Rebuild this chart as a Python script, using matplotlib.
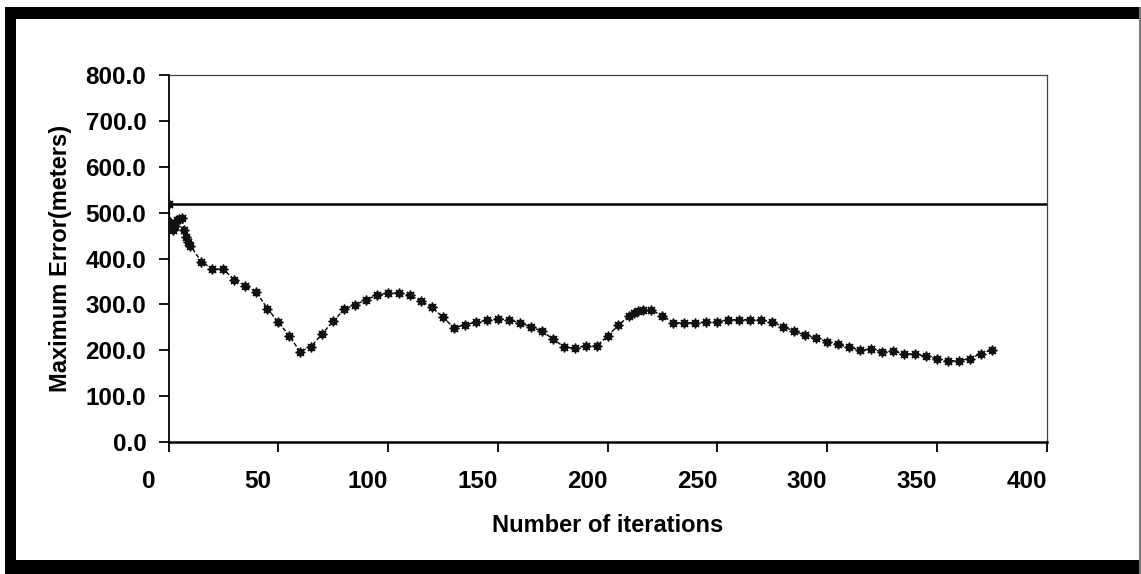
#%% Imports
import numpy as np
import matplotlib
matplotlib.use("Agg")
import matplotlib.pyplot as plt
import matplotlib.transforms as mtransforms
from matplotlib.patches import Rectangle

#%% Data
iterations = [0, 1, 2, 3, 4, 5, 6, 7, 8, 9, 10,
              15, 20, 25, 30, 35, 40, 45, 50, 55, 60,
              65, 70, 75, 80, 85, 90, 95, 100, 105, 110,
              115, 120, 125, 130, 135, 140, 145, 150, 155, 160,
              165, 170, 175, 180, 185, 190, 195, 200, 205, 210,
              212, 214, 216, 220, 225, 230, 235, 240, 245, 250,
              255, 260, 265, 270, 275, 280, 285, 290, 295, 300,
              305, 310, 315, 320, 325, 330, 335, 340, 345, 350,
              355, 360, 365, 370, 375]
max_error = [518, 478, 462, 470, 484, 486, 488, 462, 447, 436, 428,
             393, 377, 377, 353, 341, 327, 291, 262, 231, 197,
             208, 236, 263, 289, 299, 310, 320, 325, 325, 320,
             307, 294, 272, 249, 255, 261, 265, 269, 266, 260,
             251, 242, 225, 208, 204, 210, 209, 231, 255, 275,
             282, 286, 288, 288, 275, 260, 260, 260, 261, 262,
             266, 267, 267, 266, 262, 251, 242, 233, 226, 219,
             213, 206, 201, 202, 197, 198, 192, 192, 187, 182,
             177, 177, 182, 192, 201]
initial_error = 518

x_ticks = [0, 50, 100, 150, 200, 250, 300, 350, 400]
y_ticks = [0, 100, 200, 300, 400, 500, 600, 700, 800]

#%% Figure
plt.rcParams['font.family'] = ['Liberation Sans', 'DejaVu Sans']
plt.rcParams['font.weight'] = 'bold'

W, H = 1141, 574
fig = plt.figure(figsize=(W / 100, H / 100), dpi=100)
fig.patch.set_facecolor('white')

# scanned black frame round the chart
def px_rect(x0, y0, x1, y1, **kw):
    fig.add_artist(Rectangle((x0 / W, 1 - y1 / H), (x1 - x0) / W, (y1 - y0) / H,
                             transform=fig.transFigure, **kw))

px_rect(5, 7, 1141, 19, color='black', lw=0)
px_rect(5, 7, 16, 574, color='black', lw=0)
px_rect(5, 560, 1141, 574, color='black', lw=0)
px_rect(1139, 7, 1141, 574, color='#777777', lw=0)

ax = fig.add_axes([168.5 / W, 1 - 442 / H, (1046.5 - 168.5) / W, (442 - 75) / H])

ax.axhline(initial_error, color='black', lw=1.8, zorder=2)
ax.plot(iterations, max_error, color='black', lw=1.0, ls=(0, (3, 1.5)),
        marker='D', ms=4.5, mfc='#333333', mec='#111111', mew=0.8, zorder=3)
ax.plot(iterations, max_error, ls='none', marker=(8, 2, 0), ms=7, mew=1.0,
        color='#111111', zorder=4)

ax.set_xlim(0, 400)
ax.set_ylim(0, 800)
ax.set_xticks(x_ticks)
ax.set_yticks(y_ticks)
ax.set_yticklabels([f"{v:.1f}" for v in y_ticks])
ax.tick_params(axis='both', direction='out', length=7, width=1.3, colors='black',
               labelsize=17.5)
ax.tick_params(axis='y', pad=9)
ax.tick_params(axis='x', pad=13)

# the x labels sit a little left of their ticks in the scan
shift = mtransforms.ScaledTranslation(-0.2, 0, fig.dpi_scale_trans)
for lab in ax.get_xticklabels():
    lab.set_transform(lab.get_transform() + shift)

for side in ['top', 'right']:
    ax.spines[side].set_color('#444444')
    ax.spines[side].set_linewidth(0.9)
ax.spines['left'].set_linewidth(1.3)
ax.spines['bottom'].set_linewidth(1.8)

ax.set_xlabel("Number of iterations", fontsize=17, fontweight='bold', labelpad=15)
ax.set_ylabel("Maximum Error(meters)", fontsize=17, fontweight='bold', labelpad=10)

fig.savefig("out.png", dpi=100)
